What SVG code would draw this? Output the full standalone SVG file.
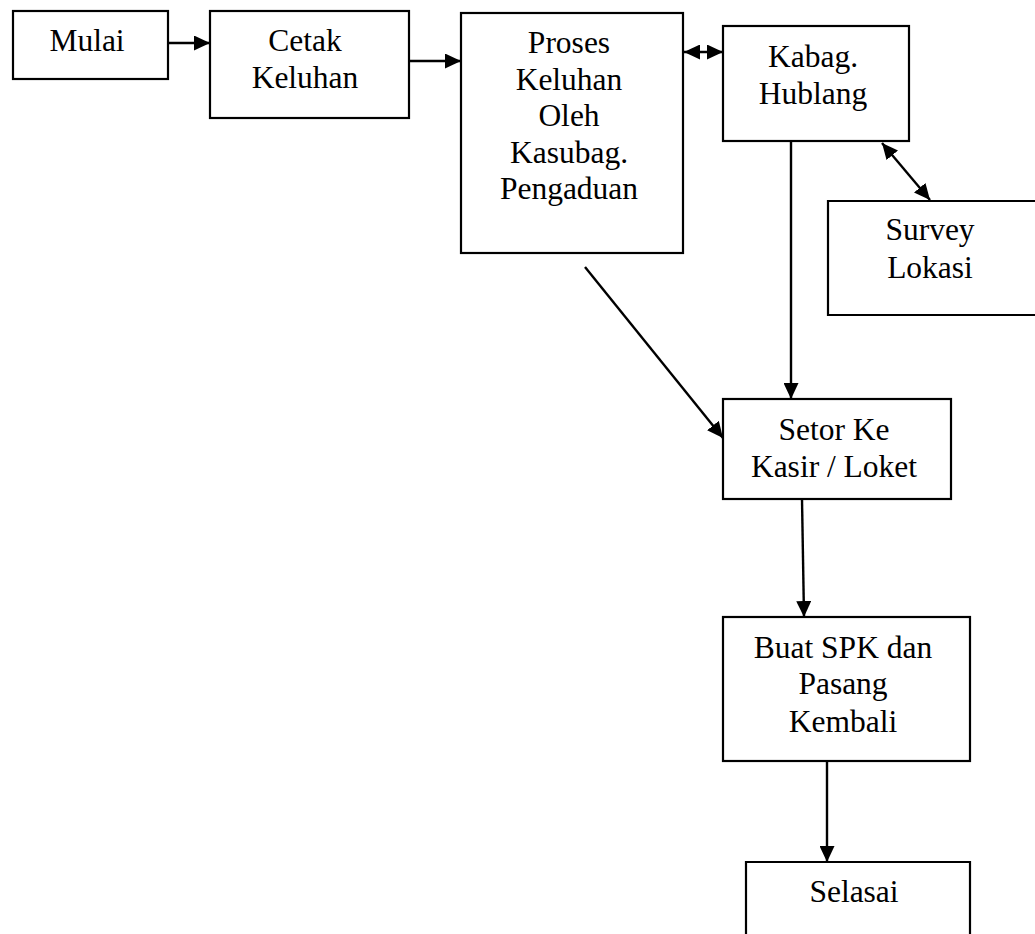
<svg xmlns="http://www.w3.org/2000/svg" width="1035" height="934" viewBox="0 0 1035 934">
<style>
.box{fill:#fff;stroke:#000;stroke-width:2.2}
.t{font-family:"Liberation Serif","Times New Roman",serif;font-size:31.5px;fill:#000;text-anchor:middle}
.c{stroke:#000;stroke-width:2.4;fill:none}
</style>
<defs>
<marker id="ah" markerUnits="userSpaceOnUse" markerWidth="16" markerHeight="15" refX="16" refY="7.5" orient="auto-start-reverse" viewBox="0 0 16 15">
<path d="M0,0 L16,7.5 L0,15 z" fill="#000"/>
</marker>
</defs>
<rect width="1035" height="934" fill="#fff"/>
<g id="mulai"><rect class="box" x="13" y="11" width="155" height="68"/><text class="t" x="87" y="51">Mulai</text></g>
<g id="cetak"><rect class="box" x="210" y="11" width="199" height="107"/><text class="t" x="305" y="51">Cetak</text><text class="t" x="305" y="88">Keluhan</text></g>
<g id="proses"><rect class="box" x="461" y="13" width="222" height="240"/><text class="t" x="569" y="53">Proses</text><text class="t" x="569" y="90">Keluhan</text><text class="t" x="569" y="126">Oleh</text><text class="t" x="569" y="163">Kasubag.</text><text class="t" x="569" y="199">Pengaduan</text></g>
<g id="kabag"><rect class="box" x="723" y="26" width="186" height="115"/><text class="t" x="813" y="67">Kabag.</text><text class="t" x="813" y="104">Hublang</text></g>
<g id="survey"><path class="box" d="M1040,201 L828,201 L828,315 L1040,315"/><text class="t" x="930" y="240">Survey</text><text class="t" x="930" y="278">Lokasi</text></g>
<g id="setor"><rect class="box" x="723" y="399" width="228" height="100"/><text class="t" x="834" y="440">Setor Ke</text><text class="t" x="834" y="477">Kasir / Loket</text></g>
<g id="buat"><rect class="box" x="723" y="617" width="247" height="144"/><text class="t" x="843" y="658">Buat SPK dan</text><text class="t" x="843" y="694">Pasang</text><text class="t" x="843" y="732">Kembali</text></g>
<g id="selasai"><path class="box" d="M746,940 L746,862 L970,862 L970,940"/><text class="t" x="854" y="902">Selasai</text></g>
<g id="connectors">
<line class="c" x1="168" y1="43" x2="210" y2="43" marker-end="url(#ah)"/>
<line class="c" x1="409" y1="61" x2="461" y2="61" marker-end="url(#ah)"/>
<line class="c" x1="684" y1="52" x2="723" y2="52" marker-start="url(#ah)" marker-end="url(#ah)"/>
<line class="c" x1="882" y1="143" x2="930" y2="200" marker-start="url(#ah)" marker-end="url(#ah)"/>
<line class="c" x1="791" y1="142" x2="791" y2="399" marker-end="url(#ah)"/>
<line class="c" x1="585" y1="267" x2="723" y2="438" marker-end="url(#ah)"/>
<line class="c" x1="802" y1="499" x2="804" y2="617" marker-end="url(#ah)"/>
<line class="c" x1="827" y1="761" x2="827" y2="862" marker-end="url(#ah)"/>
</g>
</svg>
